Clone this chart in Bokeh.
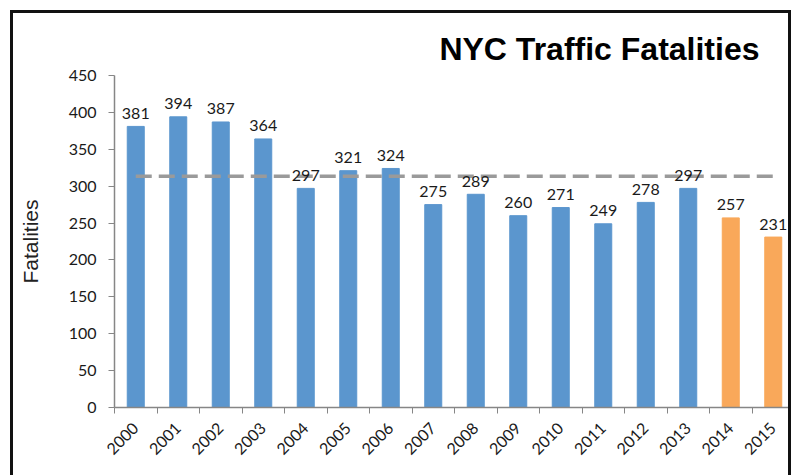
from bokeh.plotting import figure
from bokeh.models import Range1d, FixedTicker, ColumnDataSource
from bokeh.core.properties import value
from bokeh.embed import file_html
from bokeh.resources import INLINE
from math import pi

years = [2000, 2001, 2002, 2003, 2004, 2005, 2006, 2007,
         2008, 2009, 2010, 2011, 2012, 2013, 2014, 2015]
fatalities = [381, 394, 387, 364, 297, 321, 324, 275,
              289, 260, 271, 249, 278, 297, 257, 231]
bar_colors = ["#5B96CE"] * 14 + ["#F9A85A"] * 2
y_ticks = [0, 50, 100, 150, 200, 250, 300, 350, 400, 450]
year_labels = [str(y) for y in years]
avg_value = sum(fatalities[:14]) / len(fatalities[:14])

src = ColumnDataSource(dict(x=years, y=fatalities, color=bar_colors,
                            label=[str(v) for v in fatalities]))

p = figure(width=781, height=465,
           x_range=Range1d(years[0] - 0.5, years[-1] + 0.5),
           y_range=Range1d(0, 450),
           output_backend="svg", toolbar_location=None,
           min_border_left=101, min_border_right=0,
           min_border_top=62, min_border_bottom=71)
p.margin = (10, 0, 0, 10)
p.styles = {"border-top": "3px solid #111", "border-left": "3px solid #111",
            "border-right": "3px solid #111"}

p.title.text = "NYC Traffic Fatalities"
p.title.text_font = "Liberation Sans"
p.title.text_font_size = "32px"
p.title.text_font_style = "bold"
p.title.text_color = "#000000"
p.title.align = "right"
p.title.offset = 35
p.title.standoff = 17

p.vbar(x="x", top="y", width=0.4, color="color", source=src)
p.line([years[0], years[-1]], [avg_value, avg_value], line_color="#9A9A9A",
       line_width=3.5, line_dash="16 7")
p.text(x="x", y="y", text="label", source=src, text_align="center",
       text_baseline="alphabetic", y_offset=-13,
       text_font=value("Lato"), text_font_size="16px", text_color="#1a1a1a")

p.xgrid.visible = False
p.ygrid.visible = False
p.outline_line_color = None

xa = p.xaxis[0]
xa.ticker = FixedTicker(ticks=years,
                        minor_ticks=[y - 0.5 for y in years] + [years[-1] + 0.5])
xa.major_label_overrides = {y: s for y, s in zip(years, year_labels)}
xa.major_label_orientation = pi / 4
xa.major_tick_line_color = None
xa.minor_tick_line_color = "#868686"
xa.minor_tick_out = 6
xa.minor_tick_in = 0
xa.axis_line_color = "#868686"
xa.axis_line_width = 1.5
xa.major_label_text_font = "Lato"
xa.major_label_text_font_size = "16px"
xa.major_label_text_color = "#1a1a1a"
xa.major_label_standoff = 12

ya = p.yaxis[0]
ya.ticker = FixedTicker(ticks=y_ticks)
ya.major_tick_line_color = "#868686"
ya.major_tick_out = 6
ya.major_tick_in = 0
ya.minor_tick_line_color = None
ya.axis_line_color = "#868686"
ya.axis_line_width = 1.5
ya.major_label_text_font = "Lato"
ya.major_label_text_font_size = "16px"
ya.major_label_text_color = "#1a1a1a"
ya.major_label_standoff = 12
ya.axis_label = "Fatalities"
ya.axis_label_text_font = "Liberation Sans"
ya.axis_label_text_font_size = "21px"
ya.axis_label_text_font_style = "normal"
ya.axis_label_text_color = "#222222"
ya.axis_label_standoff = 24

open("out.html", "w").write(file_html(p, INLINE))
